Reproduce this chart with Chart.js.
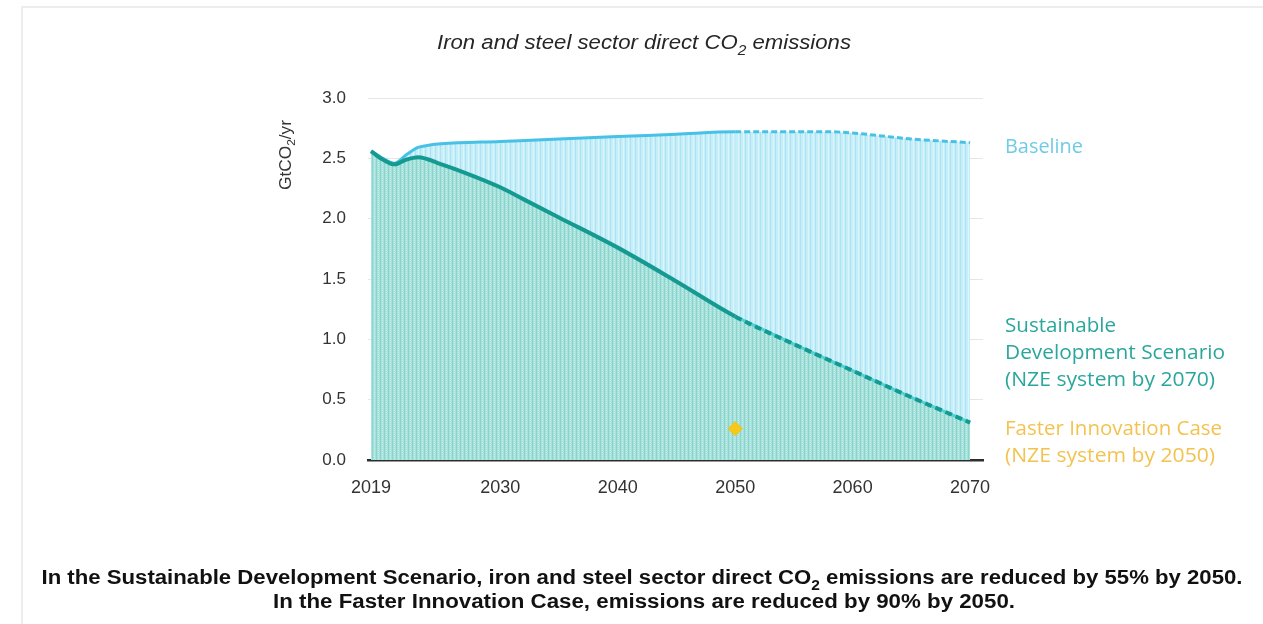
<!DOCTYPE html>
<html>
<head>
<meta charset="utf-8">
<title>Iron and steel sector direct CO2 emissions</title>
<script src="https://cdn.jsdelivr.net/npm/chart.js@4.4.1/dist/chart.umd.min.js"></script>
<style>
  html, body { margin: 0; padding: 0; background: #ffffff; }
  #wrap { position: relative; width: 1263px; height: 624px; }
  canvas { display: block; }
</style>
</head>
<body>
<div id="wrap"><canvas id="chart" width="1263" height="624"></canvas></div>
<script>
// Baseline emissions (GtCO2/yr)
const baselineYears  = [2019, 2020, 2021, 2022, 2023, 2024, 2025, 2030, 2035, 2040, 2045, 2050, 2055, 2058, 2060, 2063, 2065, 2070];
const baselineValues = [2.56, 2.50, 2.46, 2.53, 2.59, 2.61, 2.62, 2.64, 2.66, 2.68, 2.70, 2.72, 2.72, 2.72, 2.71, 2.68, 2.66, 2.63];

// Sustainable Development Scenario (GtCO2/yr)
const sdsYears  = [2019, 2020, 2021, 2022, 2023, 2025, 2027, 2030, 2032, 2035, 2040, 2045, 2050, 2055, 2060, 2065, 2070];
const sdsValues = [2.56, 2.49, 2.45, 2.49, 2.51, 2.45, 2.38, 2.26, 2.16, 2.01, 1.76, 1.48, 1.19, 0.96, 0.74, 0.52, 0.31];

// Faster Innovation Case, 2050
const fasterYears  = [2050];
const fasterValues = [0.26];

// Projection (dashed) starts here
const projectionStart = 2050;

const xTicks = [2019, 2030, 2040, 2050, 2060, 2070];
const yTicks = [0, 0.5, 1.0, 1.5, 2.0, 2.5, 3.0];

const seriesLabels = ['Baseline', 'Sustainable Development Scenario (NZE system by 2070)', 'Faster Innovation Case (NZE system by 2050)'];

const toPoints = (xs, ys) => xs.map((x, i) => ({ x: x, y: ys[i] }));

// Hatched fills: vertical stripes for the baseline area, dotted stripes for the SDS area
function makeBaselinePattern() {
  const c = document.createElement('canvas');
  c.width = 5; c.height = 4;
  const g = c.getContext('2d');
  g.fillStyle = '#c6eef9'; g.fillRect(0, 0, 5, 4);
  g.fillStyle = '#ace2f1'; g.fillRect(0, 0, 1, 4);
  g.fillStyle = '#dbf5fc'; g.fillRect(3, 0, 1, 4);
  return g.createPattern(c, 'repeat');
}
function makeSdsPattern() {
  const c = document.createElement('canvas');
  c.width = 4; c.height = 4;
  const g = c.getContext('2d');
  g.fillStyle = '#a6e2db'; g.fillRect(0, 0, 4, 4);
  g.fillStyle = '#8cd4cd'; g.fillRect(0, 0, 1, 4);
  g.fillStyle = '#c6efea'; g.fillRect(2, 0, 1, 1); g.fillRect(2, 2, 1, 1);
  return g.createPattern(c, 'repeat');
}

const FONT_SANS = '"Liberation Sans", Arial, sans-serif';
const FONT_LABEL = '"Open Sans", "Noto Sans", sans-serif';

// Draws text pieces (some subscripted), optionally fitted to a width
function drawRich(ctx, parts, x, y, opts) {
  const size = opts.size;
  const style = opts.style || '';
  const family = opts.family || FONT_SANS;
  const mainFont = (style + ' ' + size + 'px ' + family).trim();
  const subFont = (style + ' ' + Math.round(size * 0.68) + 'px ' + family).trim();
  let total = 0;
  const widths = parts.map(p => {
    ctx.font = p.sub ? subFont : mainFont;
    const w = ctx.measureText(p.t).width;
    total += w;
    return w;
  });
  const sx = opts.width ? opts.width / total : 1;
  const drawnW = total * sx;
  let left = x;
  if (opts.align === 'center') left = x - drawnW / 2;
  else if (opts.align === 'right') left = x - drawnW;
  ctx.save();
  ctx.fillStyle = opts.color;
  ctx.textBaseline = 'alphabetic';
  ctx.textAlign = 'left';
  ctx.translate(left, y);
  ctx.scale(sx, 1);
  let cx = 0;
  parts.forEach((p, i) => {
    ctx.font = p.sub ? subFont : mainFont;
    ctx.fillText(p.t, cx, p.sub ? size * 0.28 : 0);
    cx += widths[i];
  });
  ctx.restore();
}

const textPlugin = {
  id: 'chartTexts',
  beforeDraw(chart) {
    const ctx = chart.ctx;
    ctx.save();
    ctx.fillStyle = '#ffffff';
    ctx.fillRect(0, 0, chart.width, chart.height);
    // faint card edge
    ctx.strokeStyle = '#ededed';
    ctx.lineWidth = 2;
    ctx.beginPath();
    ctx.moveTo(22, 624);
    ctx.lineTo(22, 7);
    ctx.lineTo(1263, 7);
    ctx.stroke();
    ctx.restore();
  },
  afterDraw(chart) {
    const ctx = chart.ctx;
    // Title
    drawRich(ctx, [{ t: 'Iron and steel sector direct CO' }, { t: '2', sub: true }, { t: ' emissions' }],
      644, 49, { size: 20, style: 'italic', color: '#262626', align: 'center', width: 414 });

    // Unit label, rotated
    ctx.save();
    ctx.translate(291, 155);
    ctx.rotate(-Math.PI / 2);
    drawRich(ctx, [{ t: 'GtCO' }, { t: '2', sub: true }, { t: '/yr' }],
      0, 0, { size: 16, color: '#333333', align: 'center', width: 70 });
    ctx.restore();

    // Series labels at the right
    const lab = { size: 19.5, family: FONT_LABEL };
    drawRich(ctx, [{ t: 'Baseline' }], 1005, 153, Object.assign({ color: '#6fcbe6', width: 78 }, lab));
    drawRich(ctx, [{ t: 'Sustainable' }], 1005, 332, Object.assign({ color: '#2aa79c', width: 111 }, lab));
    drawRich(ctx, [{ t: 'Development Scenario' }], 1005, 359, Object.assign({ color: '#2aa79c', width: 220 }, lab));
    drawRich(ctx, [{ t: '(NZE system by 2070)' }], 1005, 386, Object.assign({ color: '#2aa79c', width: 210 }, lab));
    drawRich(ctx, [{ t: 'Faster Innovation Case' }], 1005, 435, Object.assign({ color: '#f3c350', width: 217 }, lab));
    drawRich(ctx, [{ t: '(NZE system by 2050)' }], 1005, 462, Object.assign({ color: '#f3c350', width: 210 }, lab));

    // Caption
    drawRich(ctx, [
      { t: 'In the Sustainable Development Scenario, iron and steel sector direct CO' }, { t: '2', sub: true },
      { t: ' emissions are reduced by 55% by 2050.' }],
      642, 584, { size: 20, style: 'bold', color: '#111111', align: 'center', width: 1201 });
    drawRich(ctx, [{ t: 'In the Faster Innovation Case, emissions are reduced by 90% by 2050.' }],
      644, 608, { size: 20, style: 'bold', color: '#111111', align: 'center', width: 742 });
  }
};

const dashAfter = (dash) => (ctx) => (ctx.p0.parsed.x >= projectionStart ? dash : undefined);

const sdsPoints = toPoints(sdsYears, sdsValues);

new Chart(document.getElementById('chart'), {
  type: 'line',
  data: {
    datasets: [
      {
        label: seriesLabels[2],
        type: 'scatter',
        data: toPoints(fasterYears, fasterValues),
        pointStyle: 'rectRot',
        pointRadius: 7,
        backgroundColor: '#f7c81a',
        borderColor: '#f4c20e',
        borderWidth: 1
      },
      {
        label: seriesLabels[1],
        data: sdsPoints,
        borderColor: '#149a90',
        borderWidth: 4,
        pointRadius: 0,
        cubicInterpolationMode: 'monotone',
        fill: 'origin',
        backgroundColor: makeSdsPattern(),
        segment: { borderDash: dashAfter([7, 4]) }
      },
      {
        label: seriesLabels[1] + ' (projection)',
        data: sdsPoints.filter(p => p.x >= projectionStart),
        borderColor: '#4fd2d6',
        borderWidth: 3,
        pointRadius: 0,
        cubicInterpolationMode: 'monotone',
        fill: false
      },
      {
        label: seriesLabels[0],
        data: toPoints(baselineYears, baselineValues),
        borderColor: '#47c2e6',
        borderWidth: 3,
        pointRadius: 0,
        cubicInterpolationMode: 'monotone',
        fill: 'origin',
        backgroundColor: makeBaselinePattern(),
        segment: { borderDash: dashAfter([6, 3]) }
      }
    ]
  },
  options: {
    responsive: false,
    animation: false,
    events: [],
    layout: { padding: { top: 98, right: 280, bottom: 124, left: 0 } },
    plugins: {
      legend: { display: false },
      tooltip: { enabled: false },
      filler: { drawTime: 'beforeDatasetsDraw' }
    },
    scales: {
      x: {
        type: 'linear',
        min: 2018.74,
        max: 2071.1,
        afterBuildTicks: (scale) => { scale.ticks = xTicks.map(v => ({ value: v })); },
        afterFit: (scale) => { scale.height = 40; },
        ticks: {
          autoSkip: false,
          maxRotation: 0,
          padding: 17,
          color: '#333333',
          font: { family: FONT_SANS, size: 18 },
          callback: (v) => String(v)
        },
        grid: { display: false, drawTicks: false },
        border: { display: true, color: '#2e2e2e', width: 2.5 }
      },
      y: {
        min: 0,
        max: 3,
        afterBuildTicks: (scale) => { scale.ticks = yTicks.map(v => ({ value: v })); },
        afterFit: (scale) => { scale.width = 368; },
        ticks: {
          padding: 22,
          color: '#333333',
          font: { family: FONT_SANS, size: 17 },
          callback: (v) => Number(v).toFixed(1)
        },
        grid: { color: '#e6e6e6', lineWidth: 1, drawTicks: false },
        border: { display: false }
      }
    }
  },
  plugins: [textPlugin]
});
</script>
</body>
</html>
